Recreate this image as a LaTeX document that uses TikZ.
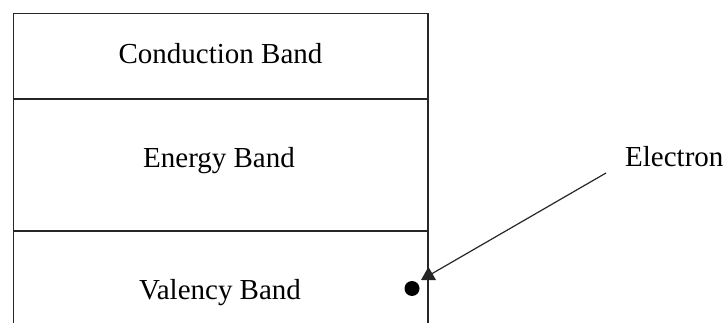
\documentclass[tikz,border=0pt]{standalone}
\usepackage{fontspec}
\setmainfont{Liberation Serif}
\usetikzlibrary{arrows.meta}
\begin{document}
\begin{tikzpicture}[x=1pt,y=-1pt,
  frame/.style={line width=1.3pt,black!85},
  label/.style={anchor=base,inner sep=0pt,font=\fontsize{29}{34}\selectfont},
  pointer/.style={line width=1.2pt,black!85,-{Triangle[length=13pt,width=15pt]}}]
\useasboundingbox (0,0) rectangle (726,323);
% band diagram frame, open at the bottom
\draw[frame] (13.5,323) -- (13.5,13.5) -- (428,13.5) -- (428,323);
\draw[frame] (13.5,99) -- (428,99);
\draw[frame] (13.5,231) -- (428,231);
% band names
\node[label] (cb) at (220.5,64) {Conduction Band};
\node[label] (eb) at (219,168) {Energy Band};
\node[label] (vb) at (220,299) {Valency Band};
% electron and its pointer
\node[circle,fill=black,inner sep=0pt,minimum size=15pt] (e) at (412,288.5) {};
\node[label,anchor=base west] (el) at (625,167) {Electron};
\coordinate (ps) at (606,173);
\coordinate (pe) at (421,280);
\draw[pointer] (ps) -- (pe);
\end{tikzpicture}
\end{document}
